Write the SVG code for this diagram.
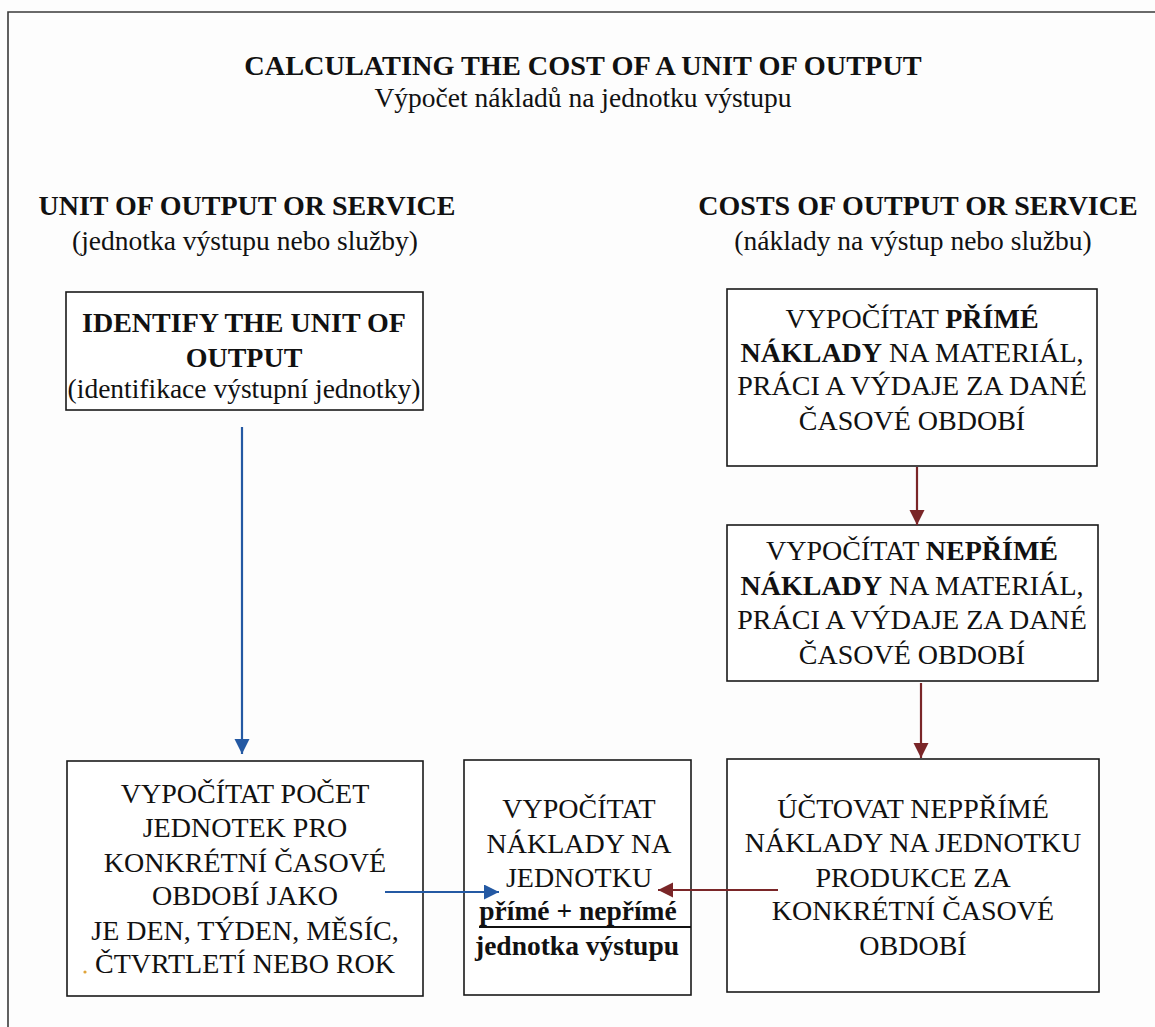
<svg xmlns="http://www.w3.org/2000/svg" width="1155" height="1027" viewBox="0 0 1155 1027">
  <style>
    text { font-family: 'Liberation Serif', 'DejaVu Serif', serif; font-size: 28px; fill: #111; text-anchor: middle; }
    .b { font-weight: bold; }
    .box { fill: #fff; stroke: #1a1a1a; stroke-width: 1.6; }
    .frame { fill: none; stroke: #3a3a3a; stroke-width: 1.6; }
    .blue { stroke: #2459a3; stroke-width: 2.2; fill: none; }
    .red { stroke: #7a2628; stroke-width: 2.2; fill: none; }
  </style>
  <defs>
    <marker id="ahBlue" markerUnits="userSpaceOnUse" markerWidth="16" markerHeight="16" refX="15" refY="7.5" orient="auto">
      <path d="M0,0 L15,7.5 L0,15 Z" fill="#2459a3"/>
    </marker>
    <marker id="ahRed" markerUnits="userSpaceOnUse" markerWidth="16" markerHeight="16" refX="15" refY="7.5" orient="auto">
      <path d="M0,0 L15,7.5 L0,15 Z" fill="#7a2628"/>
    </marker>
  </defs>

  <rect width="1155" height="1027" fill="#fdfdfd"/>

  <!-- page frame: top and left rules only -->
  <path class="frame" d="M8,1027 V12 H1155"/>

  <g font-family="Liberation Serif, DejaVu Serif, serif">
  <!-- headings -->
  <g id="title">
    <text class="b" x="583" y="75" style="font-size:28.3px">CALCULATING THE COST OF A UNIT OF OUTPUT</text>
    <text x="583" y="107" style="font-size:27.5px">Výpočet nákladů na jednotku výstupu</text>
  </g>
  <g id="heading-left">
    <text class="b" x="247" y="215">UNIT OF OUTPUT OR SERVICE</text>
    <text x="245" y="250" style="font-size:27.5px">(jednotka výstupu nebo služby)</text>
  </g>
  <g id="heading-right">
    <text class="b" x="918" y="215">COSTS OF OUTPUT OR SERVICE</text>
    <text x="913" y="250" style="font-size:27.5px">(náklady na výstup nebo službu)</text>
  </g>

  <!-- nodes -->
  <g id="identify-unit">
    <rect class="box" x="66" y="292" width="357" height="118"/>
    <text class="b" x="244" y="332">IDENTIFY THE UNIT OF</text>
    <text class="b" x="244" y="367">OUTPUT</text>
    <text x="244" y="398" style="font-size:27.5px">(identifikace výstupní jednotky)</text>
  </g>

  <g id="direct-costs">
    <rect class="box" x="727" y="289" width="370" height="177"/>
    <text x="912" y="328">VYPOČÍTAT <tspan class="b">PŘÍMÉ</tspan></text>
    <text x="912" y="362"><tspan class="b">NÁKLADY</tspan> NA MATERIÁL,</text>
    <text x="912" y="395">PRÁCI A VÝDAJE ZA DANÉ</text>
    <text x="912" y="430">ČASOVÉ OBDOBÍ</text>
  </g>

  <g id="indirect-costs">
    <rect class="box" x="727" y="525" width="371" height="156"/>
    <text x="912" y="560">VYPOČÍTAT <tspan class="b">NEPŘÍMÉ</tspan></text>
    <text x="912" y="595"><tspan class="b">NÁKLADY</tspan> NA MATERIÁL,</text>
    <text x="912" y="629">PRÁCI A VÝDAJE ZA DANÉ</text>
    <text x="912" y="664">ČASOVÉ OBDOBÍ</text>
  </g>

  <g id="count-units">
    <rect class="box" x="67" y="761" width="356" height="235"/>
    <text x="245" y="803">VYPOČÍTAT POČET</text>
    <text x="245" y="837">JEDNOTEK PRO</text>
    <text x="245" y="872">KONKRÉTNÍ ČASOVÉ</text>
    <text x="245" y="905">OBDOBÍ JAKO</text>
    <text x="245" y="940">JE DEN, TÝDEN, MĚSÍC,</text>
    <text x="245" y="973">ČTVRTLETÍ NEBO ROK</text>
    <circle cx="85" cy="972" r="1.6" fill="#e0a43a"/>
  </g>

  <g id="unit-cost">
    <rect class="box" x="464" y="760" width="227" height="235"/>
    <text x="579" y="818">VYPOČÍTAT</text>
    <text x="579" y="853">NÁKLADY NA</text>
    <text x="579" y="887">JEDNOTKU</text>
    <text class="b" x="578" y="920" style="font-size:27.5px">přímé + nepřímé</text>
    <line x1="479" y1="927" x2="691" y2="927" stroke="#111" stroke-width="1.8"/>
    <text class="b" x="577" y="955" style="font-size:27.5px">jednotka výstupu</text>
  </g>

  <g id="charge-indirect">
    <rect class="box" x="727" y="759" width="372" height="233"/>
    <text x="913" y="818">ÚČTOVAT NEPPŘÍMÉ</text>
    <text x="913" y="852">NÁKLADY NA JEDNOTKU</text>
    <text x="913" y="887">PRODUKCE ZA</text>
    <text x="913" y="920">KONKRÉTNÍ ČASOVÉ</text>
    <text x="913" y="955">OBDOBÍ</text>
  </g>
  </g>

  <!-- connectors -->
  <g id="connectors">
    <line class="blue" x1="242" y1="427" x2="242" y2="754" marker-end="url(#ahBlue)"/>
    <line class="blue" x1="385" y1="892" x2="499" y2="892" marker-end="url(#ahBlue)"/>
    <line class="red" x1="917" y1="467" x2="917" y2="525" marker-end="url(#ahRed)"/>
    <line class="red" x1="921" y1="683" x2="921" y2="758" marker-end="url(#ahRed)"/>
    <line class="red" x1="778" y1="890" x2="658" y2="890" marker-end="url(#ahRed)"/>
  </g>
</svg>
